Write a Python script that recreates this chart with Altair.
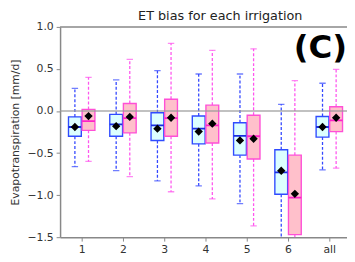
import altair as alt
import pandas as pd

groups = ["1", "2", "3", "4", "5", "6", "all"]

blue_whi = [0.27, 0.37, 0.48, 0.44, 0.44, 0.08, 0.33]
blue_q3 = [-0.07, -0.04, -0.02, -0.06, -0.14, -0.46, -0.065]
blue_med = [-0.19, -0.16, -0.17, -0.21, -0.295, -0.73, -0.19]
blue_q1 = [-0.30, -0.30, -0.35, -0.39, -0.525, -0.99, -0.31]
blue_wlo = [-0.66, -0.71, -0.83, -0.89, -1.10, -1.75, -0.70]
blue_mean = [-0.19, -0.18, -0.21, -0.245, -0.35, -0.71, -0.19]

pink_whi = [0.40, 0.615, 0.805, 0.72, 0.74, 0.36, 0.495]
pink_q3 = [0.02, 0.09, 0.14, 0.07, -0.05, -0.525, 0.05]
pink_med = [-0.12, -0.085, -0.085, -0.17, -0.30, -1.03, -0.11]
pink_q1 = [-0.23, -0.26, -0.30, -0.38, -0.57, -1.47, -0.245]
pink_wlo = [-0.60, -0.78, -0.96, -1.045, -1.365, -2.0, -0.68]
pink_mean = [-0.06, -0.07, -0.08, -0.15, -0.33, -0.985, -0.08]

OFF = 0.165
HW = 0.155

rows = []
for s, off, whi, q3, med, q1, wlo, mean in [
    ("blue", -OFF, blue_whi, blue_q3, blue_med, blue_q1, blue_wlo, blue_mean),
    ("pink", OFF, pink_whi, pink_q3, pink_med, pink_q1, pink_wlo, pink_mean),
]:
    for i, g in enumerate(groups):
        pos = i + 1 + off
        rows.append(dict(series=s, group=g, pos=pos, left=pos - HW, right=pos + HW,
                         whi=whi[i], q3=q3[i], med=med[i], q1=q1[i], wlo=wlo[i], mean=mean[i]))
df = pd.DataFrame(rows)

W, H = 292, 214
xs = alt.Scale(domain=[0.476, 0.476 + W / 42.0], nice=False, zero=False)
ys = alt.Scale(domain=[-1.5, 1.0], nice=False, zero=False)

xaxis = alt.Axis(values=[1, 2, 3, 4, 5, 6, 7], title=None, grid=False,
                 labelExpr="datum.value == 7 ? 'all' : datum.label", format="d",
                 labelFontSize=11, labelColor="#333", tickColor="#888", domainColor="#888",
                 domainWidth=1.5, tickSize=4, labelPadding=3, labelFont="DejaVu Sans")
yaxis = alt.Axis(values=[-1.5, -1.0, -0.5, 0.0, 0.5, 1.0], format=".1f", grid=False,
                 title="Evapotranspiration [mm/d]", titleFontSize=11, titleFontWeight="normal",
                 titleColor="#333", titlePadding=7, titleFont="DejaVu Sans",
                 labelFontSize=11, labelColor="#333", tickColor="#888", domainColor="#888",
                 domainWidth=1.5, tickSize=4, labelPadding=3, labelFont="DejaVu Sans")


def X(f):
    return alt.X(f, type="quantitative", scale=xs, axis=xaxis)


def Y(f):
    return alt.Y(f, type="quantitative", scale=ys, axis=yaxis)


base = alt.Chart(df)
blue = alt.datum.series == "blue"
pink = alt.datum.series == "pink"

layers = []
for cond, wcol, fill, stroke, medc in [
    (blue, "#3347ff", "#dcffff", "#2f4bff", "#1a2fe0"),
    (pink, "#ff55ee", "#ffc0cb", "#ff4fd6", "#ff22c8"),
]:
    b = base.transform_filter(cond)
    layers.append(b.mark_rule(color=wcol, strokeDash=[3, 2], strokeWidth=1.3, clip=True)
                  .encode(x=X("pos"), y=Y("q3"), y2="whi"))
    layers.append(b.mark_rule(color=wcol, strokeDash=[3, 2], strokeWidth=1.3, clip=True)
                  .encode(x=X("pos"), y=Y("q1"), y2="wlo"))
    layers.append(b.mark_tick(color=wcol, orient="horizontal", size=6.5, thickness=1.3, clip=True)
                  .encode(x=X("pos"), y=Y("whi")))
    layers.append(b.mark_tick(color=wcol, orient="horizontal", size=6.5, thickness=1.3, clip=True)
                  .encode(x=X("pos"), y=Y("wlo")))
    layers.append(b.mark_rect(fill=fill, stroke=stroke, strokeWidth=1.4, clip=True)
                  .encode(x=X("left"), x2="right", y=Y("q1"), y2="q3"))
    layers.append(b.mark_rule(color=medc, strokeWidth=1.8, clip=True)
                  .encode(x=X("left"), x2="right", y=Y("med")))

layers.append(base.mark_point(shape="diamond", filled=True, color="black", size=72, opacity=1, clip=True)
              .encode(x=X("pos"), y=Y("mean")))

zero = alt.Chart(pd.DataFrame({"z": [0.0]})).mark_rule(color="#999", strokeWidth=1.5, opacity=0.8).encode(
    y=alt.Y("z:Q", scale=ys, axis=yaxis), x=alt.value(0), x2=alt.value(W))
top = alt.Chart(pd.DataFrame({"z": [1.0]})).mark_rule(color="#888", strokeWidth=1.5).encode(
    y=alt.Y("z:Q", scale=ys, axis=yaxis), x=alt.value(0), x2=alt.value(W))

title = alt.Chart(pd.DataFrame({"t": ["ET bias for each irrigation"]})).mark_text(
    fontSize=13, font="DejaVu Sans", color="#222", align="center", baseline="alphabetic").encode(
    text="t:N", x=alt.value(163), y=alt.value(-7))
label = alt.Chart(pd.DataFrame({"t": ["(C)"]})).mark_text(
    fontSize=33, font="DejaVu Sans", fontWeight="bold", color="black", align="center", baseline="middle").encode(
    text="t:N", x=alt.value(265), y=alt.value(22))

chart = alt.layer(*layers, zero, top, title, label).properties(
    width=W, height=H,
    autosize=alt.AutoSizeParams(type="none"),
    padding={"left": 53, "top": 17, "right": 0, "bottom": 22},
).configure_view(stroke=None)

chart.save("out.html", embed_options={"renderer": "svg", "actions": False})
